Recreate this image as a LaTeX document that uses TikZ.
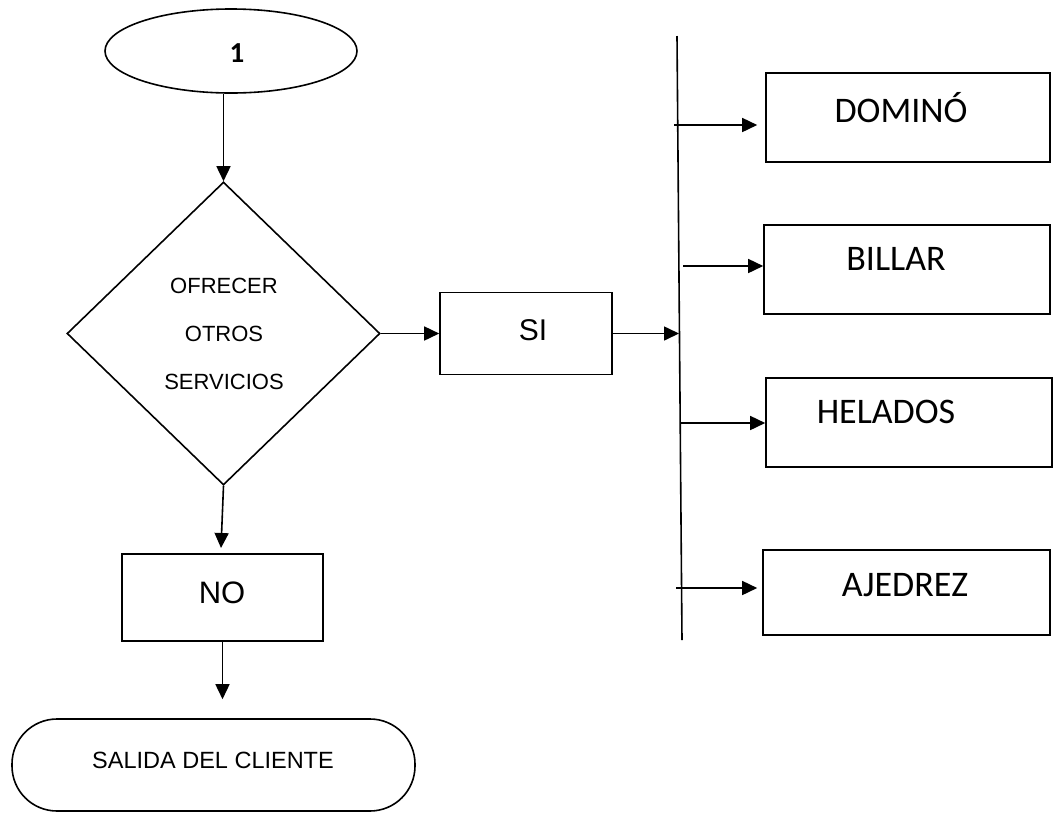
\documentclass[tikz,border=0pt]{standalone}
\usepackage{fontspec}
\setmainfont{Liberation Sans}
\newfontfamily\calfont{Carlito}
\usetikzlibrary{shapes.geometric,arrows.meta}
\begin{document}
\begin{tikzpicture}[x=1pt,y=-1pt,
  line width=1.6pt,
  box/.style={draw, rectangle, inner sep=0pt},
  flow/.style={-{Triangle[length=15pt,width=14pt]}},
  armed/.style={font=\fontsize{31}{36}\selectfont},
  opt/.style={font=\calfont\fontsize{36}{42}\selectfont},
  small/.style={font=\fontsize{22}{48}\selectfont, align=center},
]
\useasboundingbox (0,0) rectangle (1053,812);

% start connector and decision
\node[draw, ellipse, minimum width=252pt, minimum height=84pt, inner sep=0pt] (start) at (231,51) {};
\node[font=\calfont\bfseries\fontsize{29}{34}\selectfont] (startt) at (237,53) {1};

\node[draw, diamond, minimum width=313pt, minimum height=303pt, inner sep=0pt] (dec) at (223.5,333.5) {};
\node[small] (dect) at (224,334) {OFRECER\\OTROS\\SERVICIOS};

\draw[flow] (start.south -| dec.north) -- (dec.north);

% yes branch
\node[box, minimum width=172pt, minimum height=82pt] (si) at (526,333.5) {};
\node[armed, font=\fontsize{30}{36}\selectfont] (sit) at (533,330) {SI};
\draw[flow] (dec.east) -- (si.west);

% distribution bar
\coordinate (bt) at (677,36);
\coordinate (bb) at (682,640);
\draw (bt) -- (bb);
\coordinate (sj) at (679,333.5);
\draw[flow] (si.east) -- (sj);

% services
\node[box, minimum width=284pt, minimum height=89pt] (dom) at (908,117.5) {};
\node[opt] (domt) at (901,108) {DOMINÓ};
\node[box, minimum width=286pt, minimum height=89pt] (bil) at (907,269.5) {};
\node[opt] (bilt) at (896,259) {BILLAR};
\node[box, minimum width=286pt, minimum height=89pt] (hel) at (909,422.5) {};
\node[opt] (helt) at (886,412) {HELADOS};
\node[box, minimum width=287pt, minimum height=85pt] (aje) at (906.5,592.5) {};
\node[opt] (ajet) at (905,585) {AJEDREZ};

\coordinate (b1) at (674,125);
\coordinate (b2) at (683,266);
\coordinate (b3) at (680,423);
\coordinate (b4) at (676,588);
\draw[flow, shorten >=8pt] (b1) -- (b1 -| dom.west);
\draw[flow] (b2) -- (b2 -| bil.west);
\draw[flow] (b3) -- (b3 -| hel.west);
\draw[flow, shorten >=5pt] (b4) -- (b4 -| aje.west);

% no branch
\node[box, minimum width=201pt, minimum height=87pt] (no) at (222.5,597.5) {};
\node[armed] (not) at (222,593) {NO};
\coordinate (noin) at (221,548);
\draw[flow] (dec.south) -- (noin);

\node[draw, rounded corners=45pt, minimum width=403pt, minimum height=92pt, inner sep=0pt] (exit) at (213.5,765) {};
\node[font=\fontsize{23.5}{28}\selectfont] (exitt) at (213,760) {SALIDA DEL CLIENTE};
\draw[flow, shorten >=19pt] (no.south) -- (no.south |- exit.north);
\end{tikzpicture}
\end{document}
